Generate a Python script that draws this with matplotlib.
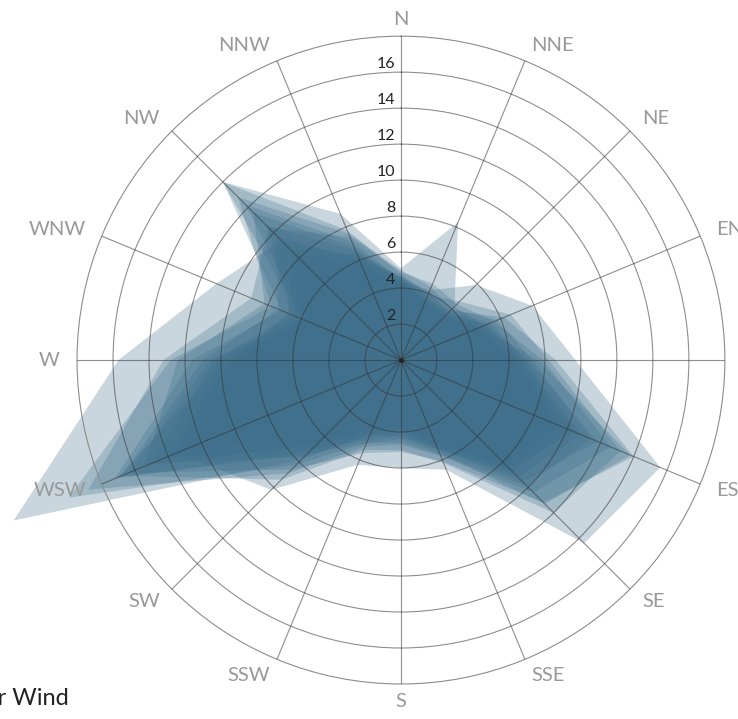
import numpy as np
import matplotlib.pyplot as plt

# Wind directions (clockwise from north)
directions = ["N", "NNE", "NE", "ENE", "E", "ESE", "SE", "SSE",
              "S", "SSW", "SW", "WSW", "W", "WNW", "NW", "NNW"]

# One polygon per month
jan = [4.6, 3.8, 3.6, 5.2, 7.1, 11.8, 9.6, 5.4, 4.0, 4.6, 7.8, 23.3, 15.7, 11.1, 9.4, 6.2]
feb = [5.1, 8.3, 4.2, 5.0, 6.8, 10.4, 8.6, 5.2, 3.9, 4.4, 7.2, 17.2, 11.6, 7.2, 14.0, 8.8]
mar = [4.4, 4.2, 5.9, 7.9, 9.7, 15.6, 14.4, 6.6, 6.0, 6.3, 10.2, 13.5, 10.1, 6.4, 8.2, 6.4]
apr = [4.8, 4.0, 3.9, 6.2, 8.6, 14.0, 11.2, 6.1, 5.1, 5.6, 8.6, 16.4, 10.6, 6.0, 14.0, 7.8]
may = [4.5, 3.6, 3.5, 4.8, 7.6, 13.8, 11.3, 5.6, 4.4, 5.0, 7.4, 17.0, 9.8, 5.8, 12.2, 7.1]
jun = [4.3, 3.5, 3.4, 4.6, 6.4, 9.6, 8.4, 5.1, 3.7, 4.2, 6.6, 15.4, 12.4, 8.2, 11.6, 6.8]
jul = [4.9, 4.6, 4.4, 5.6, 7.9, 12.6, 10.4, 5.8, 4.7, 5.2, 8.9, 18.8, 13.2, 9.0, 10.4, 7.4]
aug = [4.4, 3.7, 3.8, 5.4, 6.9, 10.8, 9.2, 5.3, 4.2, 4.8, 7.0, 14.2, 9.4, 6.8, 8.6, 5.6]
sep = [4.7, 3.9, 4.6, 6.6, 8.2, 13.2, 12.0, 6.2, 5.0, 5.4, 9.4, 16.8, 11.0, 7.4, 9.8, 6.0]
oct_ = [4.3, 3.6, 3.5, 4.7, 6.2, 9.2, 8.1, 5.0, 3.8, 4.1, 6.4, 12.6, 9.2, 5.7, 6.8, 5.2]
nov = [5.0, 4.4, 4.0, 5.8, 7.3, 11.4, 9.9, 5.7, 4.6, 5.0, 8.2, 20.0, 12.8, 7.8, 12.8, 7.6]
dec = [4.6, 4.1, 3.7, 5.1, 6.6, 10.1, 8.8, 5.4, 4.3, 4.5, 7.6, 15.0, 10.4, 6.6, 10.6, 6.6]
months = [jan, feb, mar, apr, may, jun, jul, aug, sep, oct_, nov, dec]

ring_values = [2, 4, 6, 8, 10, 12, 14, 16]
r_max = 18

plt.rcParams['font.family'] = ['Lato', 'DejaVu Sans']

fig = plt.figure(figsize=(7.38, 7.19), dpi=100)
ax = fig.add_axes([0.1043, 0.0487, 0.878, 0.901], projection='polar')
ax.set_theta_zero_location('N')
ax.set_theta_direction(-1)

theta = np.deg2rad(np.arange(len(directions)) * 22.5)
theta_closed = np.append(theta, theta[0])

for m in months:
    r = np.append(m, m[0])
    ax.fill(theta_closed, r, color='#3e6f8b', alpha=0.28, lw=0, clip_on=False, zorder=1)

ax.set_ylim(0, r_max)
ax.set_xticks(theta)
ax.set_xticklabels([])
ax.set_yticks(ring_values)
ax.set_yticklabels([])
ax.set_axisbelow(False)
ax.grid(True, color='#333333', alpha=0.55, lw=0.8, zorder=3)
ax.spines['polar'].set_color('#8c8c8c')
ax.spines['polar'].set_linewidth(0.8)
ax.tick_params(length=0)

# ring labels along the north spoke
for v in ring_values:
    ax.annotate(str(v), xy=(0, v), xytext=(-4, 1), textcoords='offset points',
                ha='right', va='bottom', fontsize=11.5, color='#222222', zorder=5)

# direction labels
for t, name in zip(theta, directions):
    sx = np.sin(t)
    if sx > 0.1:
        ha = 'left'
    elif sx < -0.1:
        ha = 'right'
    else:
        ha = 'center'
    ax.text(t, 18.95, name, ha=ha, va='center', fontsize=14.5, color='#999999',
            clip_on=False)

ax.plot([0], [0], 'o', color='#222222', ms=2.5, zorder=4)

fig.text(0.093, 0.02, "Average Speed per Wind", ha='right', va='baseline',
         fontsize=17, color='#222222')

fig.savefig('out.png', dpi=100)
